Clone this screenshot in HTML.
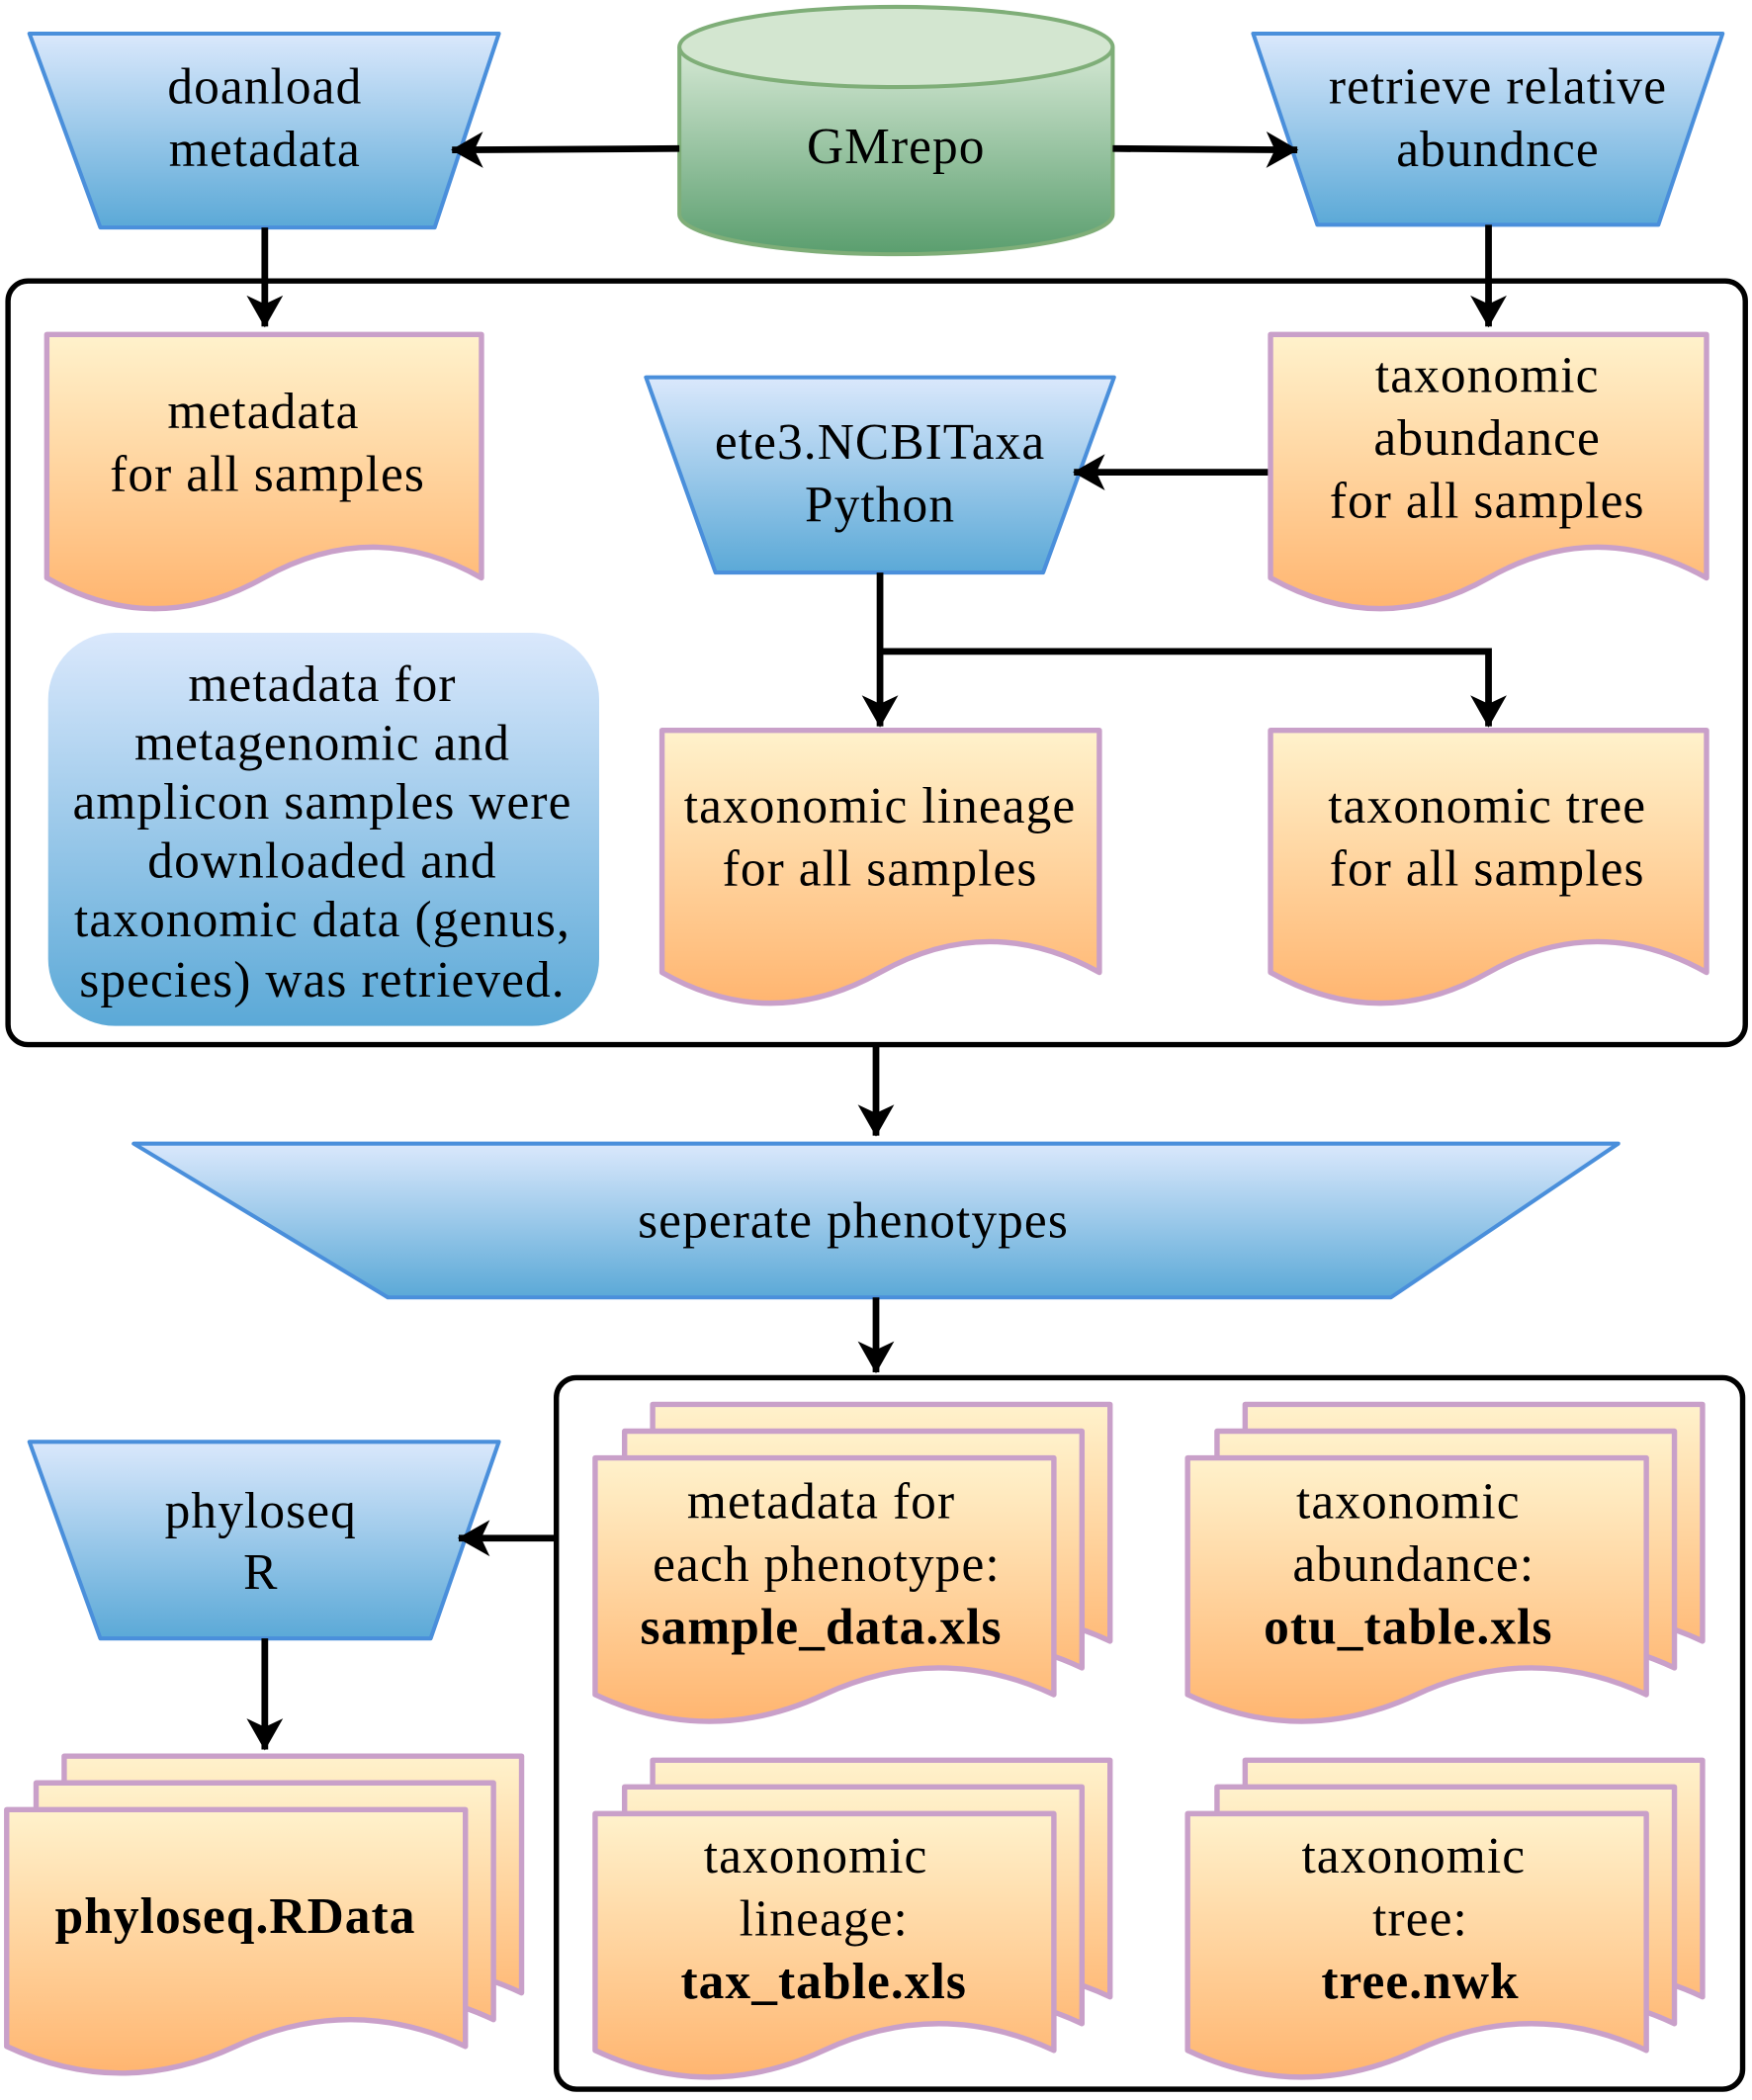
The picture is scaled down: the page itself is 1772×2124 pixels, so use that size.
<!DOCTYPE html>
<html><head><meta charset="utf-8"><style>html,body{margin:0;padding:0;background:#fff}svg{display:block}</style></head>
<body>
<svg width="1772" height="2124" viewBox="0 0 1310 1570" xmlns="http://www.w3.org/2000/svg" font-family="'Liberation Serif', serif" font-size="38" letter-spacing="0.8" fill="#000">
<defs>
<linearGradient id="bl" x1="0" y1="0" x2="0" y2="1"><stop offset="0" stop-color="#dae8fc"/><stop offset="1" stop-color="#5ba9d7"/></linearGradient>
<linearGradient id="gr" x1="0" y1="0" x2="0" y2="1"><stop offset="0" stop-color="#d5e8d4"/><stop offset="1" stop-color="#5a9e6e"/></linearGradient>
<linearGradient id="or" x1="0" y1="0" x2="0" y2="1"><stop offset="0" stop-color="#fff2cc"/><stop offset="1" stop-color="#ffb570"/></linearGradient>
<marker id="ar" viewBox="0 0 10 10" refX="9" refY="5" markerWidth="8" markerHeight="8" orient="auto" markerUnits="userSpaceOnUse" overflow="visible"><path d="M-20,-12 L10,5 L-20,22 L-12,5 Z" fill="#000" transform="scale(1)"/></marker>
</defs>
<g stroke="#000" stroke-width="4" fill="none">
<rect x="6" y="210" width="1299" height="571" rx="15"/>
<rect x="416" y="1030" width="887" height="532" rx="15"/>
</g>
<g stroke-linejoin="round" stroke="#4a8fdb" stroke-width="3">
<path d="M22,25 H373 L325,170 H75 Z" fill="url(#bl)"/>
<path d="M937,25 H1288 L1240,168 H985 Z" fill="url(#bl)"/>
<path d="M483,282 H833 L780,428 H535 Z" fill="url(#bl)"/>
<path d="M100,855 H1210 L1040,970 H290 Z" fill="url(#bl)"/>
<path d="M22,1078 H373 L322,1225 H75 Z" fill="url(#bl)"/>
</g>
<rect x="36" y="473" width="412" height="294" rx="50" fill="url(#bl)"/>
<g stroke="#7fae78" stroke-width="3">
<path d="M508,35 V160 A162,30 0 0 0 832,160 V35" fill="url(#gr)"/>
<ellipse cx="670" cy="35" rx="162" ry="30" fill="#d3e6d0"/>
</g>
<g stroke="#c9a0c9" stroke-width="4" fill="url(#or)" stroke-linejoin="round">
<path d="M35,250 H360 V432 Q279,386 197,432 T35,432 Z"/>
<path d="M950,250 H1276 V432 Q1194,386 1113,432 T950,432 Z"/>
<path d="M495,546 H822 V727 Q740,681 658,727 T495,727 Z"/>
<path d="M950,546 H1276 V727 Q1194,681 1113,727 T950,727 Z"/>
<g id="m1">
<path d="M48,1313 H390 V1490 Q305,1450 219,1490 T48,1490 Z"/>
<path d="M27,1333 H369 V1510 Q284,1470 198,1510 T27,1510 Z"/>
<path d="M5,1353 H348 V1530 Q262,1490 176,1530 T5,1530 Z"/>
</g>
<use href="#m1" x="440" y="-263"/>
<use href="#m1" x="883" y="-263"/>
<use href="#m1" x="440" y="3"/>
<use href="#m1" x="883" y="3"/>
</g>
<g stroke="#000" stroke-width="5" fill="none" marker-end="url(#ar)">
<path d="M508,111 L338,112"/>
<path d="M832,111 L970,112"/>
<path d="M198,170 V244"/>
<path d="M1113,168 V244"/>
<path d="M948,353 H803"/>
<path d="M658,428 V543"/>
<path d="M658,487 H1113 V543"/>
<path d="M655,781 V849"/>
<path d="M655,970 V1026"/>
<path d="M416,1150 H343"/>
<path d="M198,1225 V1308"/>
</g>
<g text-anchor="middle">
<text x="198" y="77">doanload</text><text x="198" y="124">metadata</text>
<text x="670" y="122">GMrepo</text>
<text x="1120" y="77">retrieve relative</text><text x="1120" y="124">abundnce</text>
<text x="197" y="320">metadata</text><text x="200" y="367">for all samples</text>
<text x="658" y="343">ete3.NCBITaxa</text><text x="658" y="390">Python</text>
<text x="1112" y="293">taxonomic</text><text x="1112" y="340">abundance</text><text x="1112" y="387">for all samples</text>
<text x="241" y="524">metadata for</text><text x="241" y="568">metagenomic and</text><text x="241" y="612">amplicon samples were</text><text x="241" y="656">downloaded and</text><text x="241" y="700">taxonomic data (genus,</text><text x="241" y="745">species) was retrieved.</text>
<text x="658" y="615">taxonomic lineage</text><text x="658" y="662">for all samples</text>
<text x="1112" y="615">taxonomic tree</text><text x="1112" y="662">for all samples</text>
<text x="638" y="925">seperate phenotypes</text>
<text x="195" y="1142">phyloseq</text><text x="195" y="1188">R</text>
<text x="176" y="1445" font-weight="bold">phyloseq.RData</text>
<text x="614" y="1135">metadata for</text><text x="618" y="1182">each phenotype:</text><text x="614" y="1229" font-weight="bold">sample_data.xls</text>
<text x="1053" y="1135">taxonomic</text><text x="1057" y="1182">abundance:</text><text x="1053" y="1229" font-weight="bold">otu_table.xls</text>
<text x="610" y="1400">taxonomic</text><text x="616" y="1447">lineage:</text><text x="616" y="1494" font-weight="bold">tax_table.xls</text>
<text x="1057" y="1400">taxonomic</text><text x="1062" y="1447">tree:</text><text x="1062" y="1494" font-weight="bold">tree.nwk</text>
</g>
</svg>
</body></html>
